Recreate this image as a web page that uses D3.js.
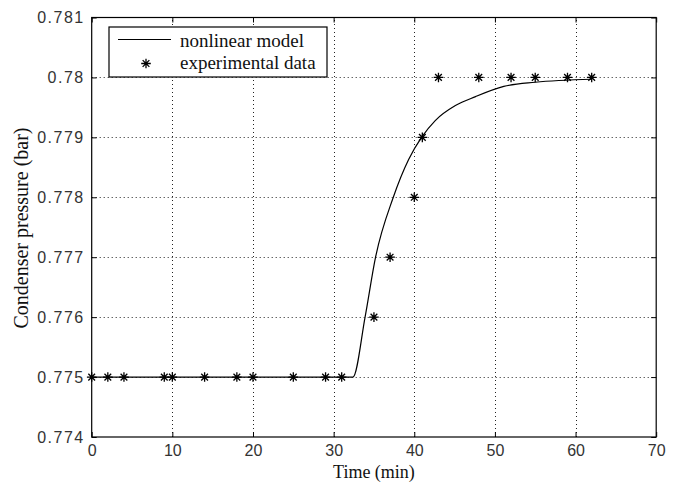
<!DOCTYPE html>
<html>
<head>
<meta charset="utf-8">
<script src="https://cdn.jsdelivr.net/npm/d3@7"></script>
<style>
  body { margin: 0; background: #fff; }
  .tick text { font-family: "Liberation Sans", Arial, sans-serif; font-size: 16px; fill: #333; }
  .y.axis .tick text { letter-spacing: 1.5px; }
  .lbl { font-family: "Liberation Serif", "Times New Roman", serif; fill: #111; }
</style>
</head>
<body>
<div id="svganchor"></div>
<script>
/*
------------------------------
METHOD: data
------------------------------
*/
// experimental samples
let expTime = [0, 2, 4, 9, 10, 14, 18, 20, 25, 29, 31, 35, 37, 40, 41, 43, 48, 52, 55, 59, 62];
let expPressure = [0.775, 0.775, 0.775, 0.775, 0.775, 0.775, 0.775, 0.775, 0.775, 0.775, 0.775,
                   0.776, 0.777, 0.778, 0.779, 0.780, 0.780, 0.780, 0.780, 0.780, 0.780];

// nonlinear model curve
let modelTime = [0, 32.4, 33.9, 35.2, 37.4, 39.3, 40.9, 42.6, 45.1, 47.6, 51.1, 55, 62];
let modelPressure = [0.775, 0.775, 0.776, 0.777, 0.778, 0.77863, 0.779, 0.77928, 0.77953, 0.77968, 0.77985, 0.77992, 0.77997];

let xTicks = [0, 10, 20, 30, 40, 50, 60, 70];
let yTicks = [0.774, 0.775, 0.776, 0.777, 0.778, 0.779, 0.780, 0.781];

/*
------------------------------
METHOD: canvas size
------------------------------
*/
let width = 676;
let height = 484;
let margin = ({top: 17.5, right: 20, bottom: 47, left: 91.7});

let svg = d3.select("#svganchor")
    .append("svg")
    .attr("width", width)
    .attr("height", height);

let xScale = d3.scaleLinear()
    .domain([0, 70])
    .range([margin.left, 656.2]);

let yScale = d3.scaleLinear()
    .domain([0.774, 0.781])
    .range([height - margin.bottom, margin.top]);

let x0 = xScale(0), x1 = xScale(70), y0 = yScale(0.774), y1 = yScale(0.781);

/*
------------------------------
METHOD: dotted grid
------------------------------
*/
let grid = svg.append("g")
    .attr("stroke", "#222")
    .attr("stroke-width", 1)
    .attr("stroke-dasharray", "1,3");

grid.selectAll(".vgrid")
    .data(xTicks.slice(1, -1))
    .enter().append("line")
    .attr("x1", d => Math.round(xScale(d)) + 0.5)
    .attr("x2", d => Math.round(xScale(d)) + 0.5)
    .attr("y1", y0)
    .attr("y2", y1);

grid.selectAll(".hgrid")
    .data(yTicks.slice(1, -1))
    .enter().append("line")
    .attr("y1", d => Math.round(yScale(d)) + 0.5)
    .attr("y2", d => Math.round(yScale(d)) + 0.5)
    .attr("x1", x0)
    .attr("x2", x1);

/*
------------------------------
METHOD: axes (ticks inward, box all round)
------------------------------
*/
let fmtY = d3.format(".3~f");

let xAxis = d3.axisBottom(xScale).tickValues(xTicks).tickSizeInner(-5).tickSizeOuter(0).tickPadding(8);
let yAxis = d3.axisLeft(yScale).tickValues(yTicks).tickFormat(fmtY).tickSizeInner(-5).tickSizeOuter(0).tickPadding(7);

svg.append("g")
    .attr("class", "x axis")
    .attr("transform", "translate(0," + y0 + ")")
    .call(xAxis)
    .call(g => g.select(".domain").remove());

svg.append("g")
    .attr("class", "y axis")
    .attr("transform", "translate(" + x0 + ",0)")
    .call(yAxis)
    .call(g => g.select(".domain").remove());

svg.append("g")
    .attr("transform", "translate(0," + y1 + ")")
    .call(d3.axisTop(xScale).tickValues(xTicks).tickSizeInner(-5).tickSizeOuter(0).tickFormat(""))
    .call(g => g.select(".domain").remove());

svg.append("g")
    .attr("transform", "translate(" + x1 + ",0)")
    .call(d3.axisRight(yScale).tickValues(yTicks).tickSizeInner(-5).tickSizeOuter(0).tickFormat(""))
    .call(g => g.select(".domain").remove());

svg.append("rect")
    .attr("x", x0)
    .attr("y", y1)
    .attr("width", x1 - x0)
    .attr("height", y0 - y1)
    .attr("fill", "none")
    .attr("stroke", "#000")
    .attr("stroke-width", 1.2);

/*
------------------------------
METHOD: model line + star markers
------------------------------
*/
let modelData = modelTime.map((t, i) => ({t: t, p: modelPressure[i]}));
let expData = expTime.map((t, i) => ({t: t, p: expPressure[i]}));

let line = d3.line()
    .x(d => xScale(d.t))
    .y(d => yScale(d.p))
    .curve(d3.curveMonotoneX);

svg.append("path")
    .datum(modelData)
    .attr("d", line)
    .attr("fill", "none")
    .attr("stroke", "#000")
    .attr("stroke-width", 1.2);

// matlab style '*' marker
function starPath(s) {
  let a = s * 0.7;
  return "M" + (-s) + ",0L" + s + ",0M0," + (-s) + "L0," + s +
         "M" + (-a) + "," + (-a) + "L" + a + "," + a +
         "M" + (-a) + "," + a + "L" + a + "," + (-a);
}

svg.selectAll(".star")
    .data(expData)
    .enter().append("path")
    .attr("class", "star")
    .attr("transform", d => "translate(" + xScale(d.t) + "," + yScale(d.p) + ")")
    .attr("d", starPath(4.8))
    .attr("stroke", "#000")
    .attr("stroke-width", 1.3)
    .attr("fill", "none");

/*
------------------------------
METHOD: legend
------------------------------
*/
let legend = svg.append("g").attr("transform", "translate(109,27)");

legend.append("rect")
    .attr("width", 218)
    .attr("height", 50)
    .attr("fill", "#fff")
    .attr("stroke", "#000")
    .attr("stroke-width", 1.2);

legend.append("line")
    .attr("x1", 9).attr("x2", 62)
    .attr("y1", 12.5).attr("y2", 12.5)
    .attr("stroke", "#000")
    .attr("stroke-width", 1.2);

legend.append("text")
    .attr("class", "lbl")
    .style("font-size", "19px")
    .attr("x", 71).attr("y", 19.5)
    .text("nonlinear model");

legend.append("path")
    .attr("transform", "translate(37,36.5)")
    .attr("d", starPath(4.8))
    .attr("stroke", "#000")
    .attr("stroke-width", 1.3);

legend.append("text")
    .attr("class", "lbl")
    .style("font-size", "19px")
    .attr("x", 71).attr("y", 42)
    .text("experimental data");

/*
------------------------------
METHOD: axis titles
------------------------------
*/
svg.append("text")
    .attr("class", "lbl")
    .style("font-size", "18px")
    .attr("x", (x0 + x1) / 2)
    .attr("y", 478)
    .attr("text-anchor", "middle")
    .text("Time (min)");

svg.append("text")
    .attr("class", "lbl")
    .style("font-size", "20px")
    .attr("transform", "translate(28,228) rotate(-90)")
    .attr("text-anchor", "middle")
    .text("Condenser pressure (bar)");
</script>
</body>
</html>
